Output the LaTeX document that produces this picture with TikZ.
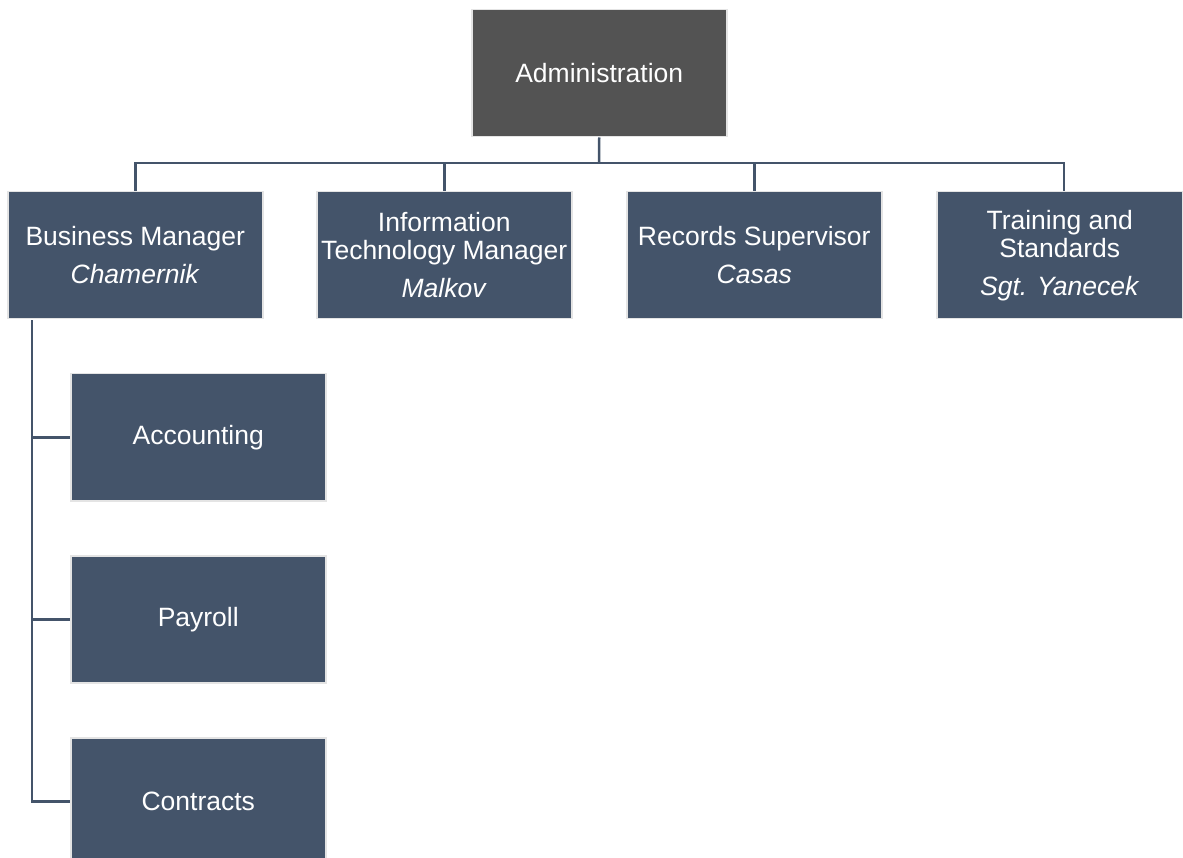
\documentclass[tikz,border=0pt]{standalone}
\usepackage{fontspec}
\setmainfont{Liberation Sans}
\definecolor{slate}{HTML}{44546A}
\definecolor{charcoal}{HTML}{535353}
\definecolor{rim}{HTML}{E4E4E4}
\begin{document}
\begin{tikzpicture}[x=1pt,y=-1pt,
  unit/.style={draw=rim, line width=1.5pt, fill=slate, text=white,
    minimum width=255pt, minimum height=127pt, inner sep=0pt,
    anchor=north west, align=center,
    font=\fontsize{26.5}{28}\selectfont},
  head/.style={unit, fill=charcoal},
  conn/.style={draw=slate, line width=2.5pt}]
\useasboundingbox (0,0) rectangle (1183,858);

% top of the chart
\node[head] (admin) at (471,9) {Administration};

% second level
\node[unit] (bm)  at (7,191)   {Business Manager\\[10pt]\textit{Chamernik}};
\node[unit] (it)  at (316,191) {Information\\Technology Manager\\[10pt]\textit{Malkov}};
\node[unit] (rs)  at (626,191) {Records Supervisor\\[10pt]\textit{Casas}};
\node[unit, minimum width=246pt] (ts) at (936,191) {Training and\\Standards\\[10pt]\textit{Sgt. Yanecek}};

% business sub-units
\node[unit] (acc) at (70,373) {Accounting};
\node[unit] (pay) at (70,555) {Payroll};
\node[unit] (con) at (70,737) {Contracts};

% connectors from the top
\coordinate (bus) at (599,163);
\draw[conn] (admin.south) -- (bus);
\draw[conn] (bus) -| (bm.north);
\draw[conn] (bus) -| (it.north);
\draw[conn] (bus) -| (rs.north);
\draw[conn] (bus) -| ([xshift=4pt]ts.north);

% side stem under Business Manager
\draw[conn] (bm.south west) ++(25,1) coordinate (stem) |- (con.west);
\draw[conn] (stem |- acc.west) -- (acc.west);
\draw[conn] (stem |- pay.west) -- (pay.west);
\end{tikzpicture}
\end{document}
